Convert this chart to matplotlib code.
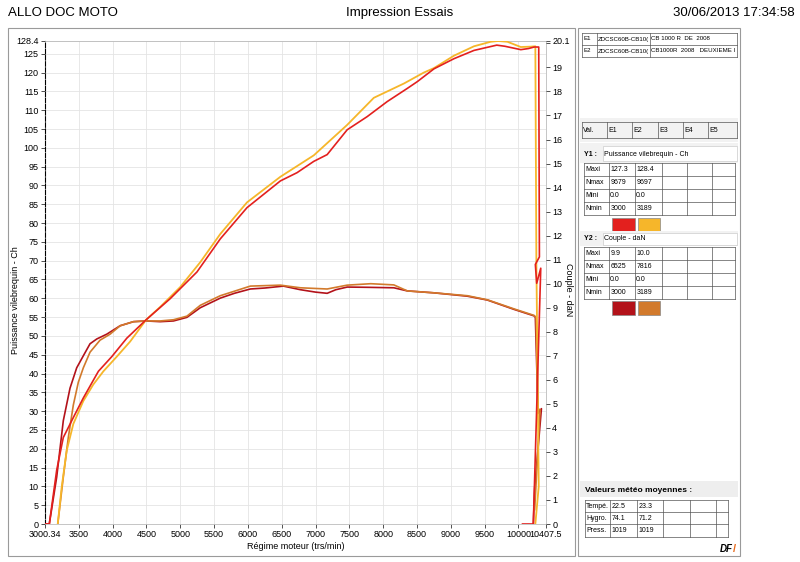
import matplotlib.pyplot as plt
from matplotlib.patches import Rectangle

plt.rcParams['font.family'] = ['Liberation Sans Narrow', 'Liberation Sans', 'DejaVu Sans']

# ---- data ----
# Y1 : Puissance vilebrequin - Ch
rpm_p1 = [3000, 3064, 3173, 3271, 3419, 3567, 3790, 3988, 4210, 4496, 4851, 5247, 5592,
          5987, 6480, 6727, 6974, 7172, 7468, 7764, 8060, 8357, 8505, 8751, 9047, 9343,
          9679, 9800, 10035, 10150, 10232, 10300, 10310, 10250, 10270, 10330, 10220, 10060]
pow_e1 = [0, 0, 14.3, 23.0, 28.3, 33.5, 40.6, 44.5, 49.4, 54.3, 59.9, 67.0, 75.8,
          84.1, 91.2, 93.4, 96.4, 98.2, 104.8, 108.3, 112.3, 115.8, 117.6, 121.0, 123.7, 125.9,
          127.3, 127.0, 126.1, 126.4, 126.8, 126.8, 71, 69, 64, 68, 0, 0]

rpm_p2 = [3189, 3247, 3321, 3419, 3567, 3715, 3864, 4062, 4259, 4496, 4703, 5000, 5296,
          5592, 5987, 6480, 6974, 7468, 7862, 8307, 8600, 8751, 9047, 9343, 9590, 9697,
          9837, 10035, 10183, 10250, 10265, 10300, 10250]
pow_e2 = [0, 9.8, 19.5, 26.6, 32.7, 37.1, 40.6, 44.5, 48.5, 54.3, 57.7, 63.0, 69.6,
          77.1, 85.5, 92.3, 98.0, 106.1, 113.3, 117.1, 120.0, 121.2, 124.5, 127.0, 128.2, 128.4,
          128.2, 126.8, 126.9, 127.0, 70, 10, 0]

# Y2 : Couple - daN
rpm_t1 = [3000, 3064, 3173, 3271, 3370, 3469, 3567, 3666, 3766, 3914, 4111, 4308, 4496,
          4703, 4900, 5099, 5296, 5592, 5800, 6036, 6250, 6525, 6777, 7000, 7172, 7300,
          7468, 7764, 8158, 8357, 8751, 9245, 9541, 9936, 10232, 10250, 10290, 10340, 10240, 10220]
trq_e1 = [0, 0, 1.95, 4.3, 5.65, 6.5, 7.0, 7.5, 7.7, 7.9, 8.25, 8.42, 8.45,
          8.42, 8.45, 8.6, 9.0, 9.4, 9.6, 9.78, 9.82, 9.9, 9.75, 9.65, 9.6, 9.75,
          9.86, 9.85, 9.83, 9.7, 9.62, 9.48, 9.32, 8.93, 8.66, 8.6, 4.6, 4.8, 1.5, 0]

rpm_t2 = [3189, 3271, 3345, 3419, 3493, 3567, 3666, 3814, 3963, 4111, 4308, 4496, 4703,
          4900, 5099, 5296, 5592, 6036, 6480, 6777, 7172, 7468, 7816, 8158, 8357, 8751,
          9245, 9541, 9936, 10232, 10260, 10290, 10320, 10240]
trq_e2 = [0, 1.95, 3.6, 4.95, 5.9, 6.5, 7.15, 7.65, 7.9, 8.25, 8.42, 8.45, 8.45,
          8.5, 8.65, 9.1, 9.5, 9.9, 9.94, 9.83, 9.78, 9.94, 10.0, 9.95, 9.7, 9.62,
          9.5, 9.33, 8.95, 8.68, 8.6, 4.8, 4.75, 0.6]

x_ticks = [3000.34, 3500, 4000, 4500, 5000, 5500, 6000, 6500, 7000, 7500, 8000,
           8500, 9000, 9500, 10000, 10407.5]
x_labels = ['3000.34', '3500', '4000', '4500', '5000', '5500', '6000', '6500', '7000',
            '7500', '8000', '8500', '9000', '9500', '10000', '10407.5']

red = '#e3201e'
yellow = '#f6b62a'
darkred = '#b3121a'
orange = '#d27a2c'

W, H = 800, 562
fig = plt.figure(figsize=(8, 5.62), dpi=100)
fig.patch.set_facecolor('white')


def frac(x0, y0, x1, y1):
    return [x0 / W, 1 - y1 / H, (x1 - x0) / W, (y1 - y0) / H]


ax = fig.add_axes(frac(45, 41, 546, 524))
ax2 = ax.twinx()

ax.plot(rpm_t1, [t * 128.4 / 20.1 for t in trq_e1], color=darkred, lw=1.2, zorder=3)
ax.plot(rpm_t2, [t * 128.4 / 20.1 for t in trq_e2], color=orange, lw=1.2, zorder=3)
ax.plot(rpm_p2, pow_e2, color=yellow, lw=1.3, zorder=4)
ax.plot(rpm_p1, pow_e1, color=red, lw=1.2, zorder=5)

ax.set_xlim(3000.34, 10407.5)
ax.set_ylim(0, 128.4)
ax2.set_ylim(0, 20.1)

ax.set_xticks(x_ticks)
ax.set_xticklabels(x_labels)
yt = list(range(0, 126, 5)) + [128.4]
ax.set_yticks(yt)
ax.set_yticklabels([str(v) for v in yt])
yt2 = list(range(0, 21)) + [20.1]
ax2.set_yticks(yt2)
ax2.set_yticklabels([str(v) if v != 20 else '' for v in yt2])

for a in (ax, ax2):
    a.tick_params(labelsize=6.5, length=3, width=0.6, color='#333333', pad=1.5)
ax.grid(True, color='#e4e4e4', lw=0.6)
ax.set_axisbelow(True)

for s in ['top', 'right', 'bottom']:
    ax.spines[s].set_color('#bbbbbb')
    ax.spines[s].set_linewidth(0.6)
ax.spines['left'].set_linestyle((0, (4, 1.5)))
ax.spines['left'].set_linewidth(0.8)
for s in ax2.spines.values():
    s.set_visible(False)

ax.set_xlabel('Régime moteur (trs/min)', fontsize=6.5, labelpad=2)
fig.text(16 / W, 1 - 300 / H, 'Puissance vilebrequin - Ch', rotation=90,
         ha='center', va='center', fontsize=6.5)
fig.text(568 / W, 1 - 290 / H, 'Couple - daN', rotation=-90,
         ha='center', va='center', fontsize=6.5)

# ---- page overlay: header, frames and the right-hand tables ----
ov = fig.add_axes([0, 0, 1, 1], zorder=-1)
ov.set_xlim(0, W)
ov.set_ylim(H, 0)
ov.axis('off')

ov.text(8, 13, 'ALLO DOC MOTO', fontsize=9.5, va='center', ha='left', family='Liberation Sans')
ov.text(400, 13, 'Impression Essais', fontsize=9.5, va='center', ha='center', family='Liberation Sans')
ov.text(795, 13, '30/06/2013 17:34:58', fontsize=9.5, va='center', ha='right', family='Liberation Sans')

ov.add_patch(Rectangle((8, 28), 567, 528, fill=False, ec='#9a9a9a', lw=0.8))
ov.add_patch(Rectangle((578, 28), 162, 528, fill=False, ec='#9a9a9a', lw=0.8))

fs = 5.0
line_c = '#555555'


def grid_table(x_cols, y_rows, rows, size=fs):
    for x in x_cols:
        ov.plot([x, x], [y_rows[0], y_rows[-1]], color=line_c, lw=0.5)
    for y in y_rows:
        ov.plot([x_cols[0], x_cols[-1]], [y, y], color=line_c, lw=0.5)
    for r, row in enumerate(rows):
        yc = (y_rows[r] + y_rows[r + 1]) / 2
        for c, txt in enumerate(row):
            t = ov.text(x_cols[c] + 1.2, yc, txt, fontsize=size, va='center', ha='left')
            # cut the text at the cell border, like the print does
            box = Rectangle((x_cols[c], y_rows[r]), x_cols[c + 1] - x_cols[c] - 0.8,
                            y_rows[r + 1] - y_rows[r], transform=ov.transData)
            t.set_clip_on(True)
            t.set_clip_path(box)


# test list
grid_table([582, 597, 650, 737], [33, 45, 57],
           [['E1', 'ZDCSC60B-CB10(', 'CB 1000 R  DE  2008'],
            ['E2', 'ZDCSC60B-CB10(', 'CB1000R  2008   DEUXIEME I']], size=4.4)

# Val. header
ov.add_patch(Rectangle((580, 118), 158, 24, color='#f2f2f2', lw=0))
grid_table([582, 607, 632, 658, 683, 708, 737], [122, 138],
           [['Val.', 'E1', 'E2', 'E3', 'E4', 'E5']])

cols = [584, 609, 635, 662, 687, 712, 735]

# Y1 block
ov.add_patch(Rectangle((580, 143), 158, 20, color='#f2f2f2', lw=0))
ov.add_patch(Rectangle((603, 146), 134, 15, fc='white', ec='#cccccc', lw=0.5))
ov.text(584, 154, 'Y1 :', fontsize=fs, va='center', ha='left', fontweight='bold')
ov.text(604, 154, 'Puissance vilebrequin - Ch', fontsize=fs, va='center', ha='left')
grid_table(cols, [163, 176, 189, 202, 215],
           [['Maxi', '127.3', '128.4'], ['Nmax', '9679', '9697'],
            ['Mini', '0.0', '0.0'], ['Nmin', '3000', '3189']])
ov.add_patch(Rectangle((612, 218), 23, 14, fc=red, ec='#888888', lw=0.5))
ov.add_patch(Rectangle((638, 218), 22, 14, fc=yellow, ec='#888888', lw=0.5))

# Y2 block
ov.add_patch(Rectangle((580, 231), 158, 15, color='#f2f2f2', lw=0))
ov.add_patch(Rectangle((603, 233), 134, 12, fc='white', ec='#cccccc', lw=0.5))
ov.text(584, 239, 'Y2 :', fontsize=fs, va='center', ha='left', fontweight='bold')
ov.text(604, 239, 'Couple - daN', fontsize=fs, va='center', ha='left')
grid_table(cols, [247, 260, 273, 286, 299],
           [['Maxi', '9.9', '10.0'], ['Nmax', '6525', '7816'],
            ['Mini', '0.0', '0.0'], ['Nmin', '3000', '3189']])
ov.add_patch(Rectangle((612, 301), 23, 14, fc=darkred, ec='#888888', lw=0.5))
ov.add_patch(Rectangle((638, 301), 22, 14, fc=orange, ec='#888888', lw=0.5))

# weather block
ov.add_patch(Rectangle((580, 481), 158, 16, color='#eeeeee', lw=0))
ov.text(585, 490, 'Valeurs météo moyennes :', fontsize=6, va='center', ha='left',
        fontweight='bold')
grid_table([585, 610, 637, 663, 690, 716, 728], [500, 512, 524, 537],
           [['Tempé.', '22.5', '23.3'], ['Hygro.', '74.1', '71.2'],
            ['Press.', '1019', '1019']])
ov.text(720, 549, 'DF', fontsize=7, va='center', ha='left', fontweight='bold',
        style='italic', family='Liberation Sans')
ov.text(733, 549, '/', fontsize=8, va='center', ha='left', fontweight='bold',
        color='#e86a1c', family='Liberation Sans')

fig.savefig('out.png', dpi=100)
